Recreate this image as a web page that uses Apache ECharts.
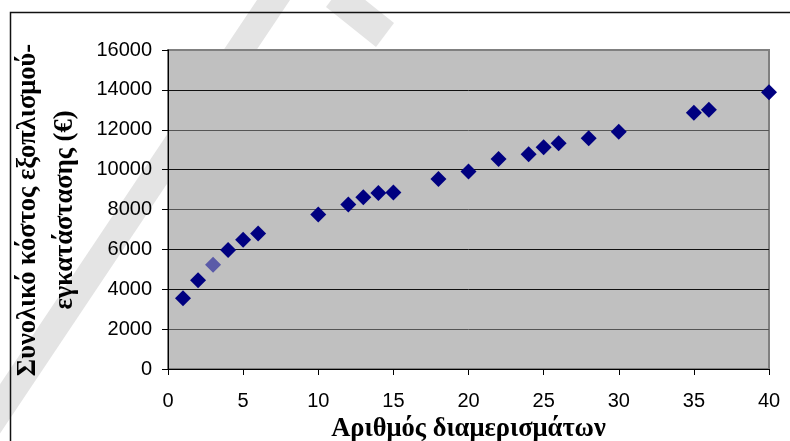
<!DOCTYPE html>
<html>
<head>
<meta charset="utf-8">
<script src="https://cdn.jsdelivr.net/npm/echarts@6/dist/echarts.min.js"></script>
<style>
  html, body { margin: 0; padding: 0; background: #ffffff; }
  #chart { width: 790px; height: 441px; }
</style>
</head>
<body>
<div id="chart"></div>
<script>
// Number of apartments
const apartments = [1, 2, 3, 4, 5, 6, 10, 12, 13, 14, 15, 18, 20, 22, 24, 25, 26, 28, 30, 35, 36, 40];
// Total equipment + installation cost (€)
const totalCost = [3550, 4450, 5230, 5970, 6480, 6800, 7750, 8250, 8620, 8830, 8850, 9530, 9900, 10530, 10770, 11120, 11320, 11570, 11900, 12850, 13000, 13880];

const xTitle = 'Αριθμός διαμερισμάτων';
const yTitleLines = ['Συνολικό κόστος εξοπλισμού-', 'εγκατάστασης (€)'];

const labelFont = { fontFamily: 'Liberation Sans, Arial, sans-serif', fontSize: 20, color: '#000' };
const titleFont = { fontFamily: 'Liberation Serif, Times New Roman, serif', fontSize: 26.5, fontWeight: 'bold', color: '#000' };

const chart = echarts.init(document.getElementById('chart'), null, { renderer: 'canvas' });

// faint diagonal background strokes behind the plot
const bandFill = '#e4e4e4';

// vertical (rotated) two-line title of the value axis
const yTitleX = [28, 65];
const yTitleGraphics = yTitleLines.map((line, i) => ({
  type: 'text',
  z: 50,
  silent: true,
  x: yTitleX[i],
  y: 210,
  rotation: Math.PI / 2,
  style: {
    text: line,
    fill: '#000',
    textAlign: 'center',
    textVerticalAlign: 'middle',
    font: 'bold 26.5px "Liberation Serif", "Times New Roman", serif'
  }
}));

chart.setOption({
  animation: false,
  backgroundColor: '#ffffff',
  graphic: [
    { type: 'polygon', z: -10, silent: true,
      shape: { points: [[257, 0], [290, 0], [-5, 441], [-38, 441]] },
      style: { fill: bandFill } },
    { type: 'polygon', z: -10, silent: true,
      shape: { points: [[344, -17], [394, 23], [376, 47], [326, 7]] },
      style: { fill: bandFill } },
    // outer frame of the chart area
    { type: 'rect', z: 100, silent: true,
      shape: { x: 10.5, y: 12.5, width: 820, height: 480 },
      style: { fill: 'none', stroke: '#111', lineWidth: 1.5 } }
  ].concat(yTitleGraphics),
  grid: {
    left: 168, right: 21, top: 50, bottom: 72,
    containLabel: false,
    outerBoundsMode: 'none',
    show: true,
    backgroundColor: '#c0c0c0',
    borderColor: '#808080',
    borderWidth: 2
  },
  xAxis: {
    type: 'value',
    min: 0, max: 40, interval: 5,
    name: xTitle,
    nameLocation: 'middle',
    nameGap: 42,
    nameTextStyle: titleFont,
    axisLine: { show: true, onZero: false, lineStyle: { color: '#000', width: 1 } },
    axisTick: { show: true, inside: false, length: 6, lineStyle: { color: '#000' } },
    axisLabel: Object.assign({ margin: 22 }, labelFont),
    splitLine: { show: false }
  },
  yAxis: {
    type: 'value',
    min: 0, max: 16000, interval: 2000,
    axisLine: { show: true, lineStyle: { color: '#000', width: 1 } },
    axisTick: { show: true, inside: false, length: 6, lineStyle: { color: '#000' } },
    axisLabel: Object.assign({ margin: 16, formatter: v => String(v) }, labelFont),
    splitLine: {
      show: true,
      lineStyle: {
        color: ['#000', '#555', '#111', '#111', '#555', '#111', '#555', '#111', '#808080'],
        width: 1
      }
    }
  },
  series: [{
    type: 'scatter',
    symbol: 'diamond',
    symbolSize: 16,
    data: apartments.map((x, i) => [x, totalCost[i]]),
    itemStyle: {
      opacity: 1,
      color: p => (p.dataIndex === 2 ? '#5a5aa8' : '#000080')
    }
  }]
});
</script>
</body>
</html>
